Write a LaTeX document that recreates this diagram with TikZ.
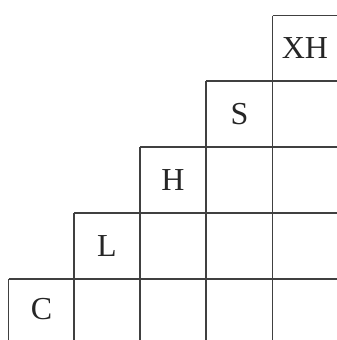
\documentclass[tikz,border=0pt]{standalone}
\usepackage{fontspec}
\setmainfont{Liberation Serif}
\begin{document}
\begin{tikzpicture}[x=1pt,y=-1pt,
  gridline/.style={draw=black!75,line width=1.3pt},
  lbl/.style={font=\fontsize{32}{32}\selectfont,text=black!85,inner sep=0pt}]
\useasboundingbox (0,0) rectangle (337,340);
% horizontal lines
\draw[gridline] (272.5,15.5) -- (337,15.5);
\draw[gridline] (206,81) -- (337,81);
\draw[gridline] (140,147) -- (337,147);
\draw[gridline] (74,213) -- (337,213);
\draw[gridline] (8.5,279) -- (337,279);
% vertical lines
\draw[gridline] (272.5,15.5) -- (272.5,340);
\draw[gridline] (206,81) -- (206,340);
\draw[gridline] (140,147) -- (140,340);
\draw[gridline] (74,213) -- (74,340);
\draw[gridline] (8.5,279) -- (8.5,340);
% labels
\node[lbl] (xh) at (305,48) {XH};
\node[lbl] (s) at (239.5,114) {S};
\node[lbl] (h) at (173,180) {H};
\node[lbl] (l) at (107,246) {L};
\node[lbl] (c) at (41.5,309) {C};
\end{tikzpicture}
\end{document}
